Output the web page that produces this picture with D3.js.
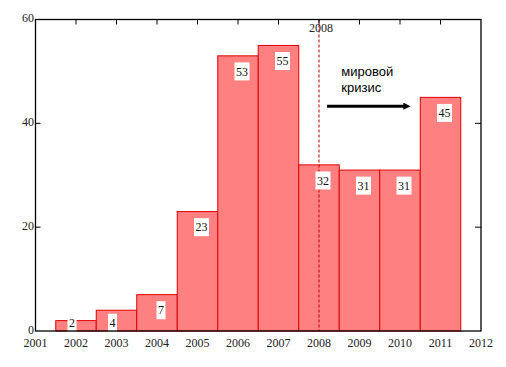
<!DOCTYPE html>
<html>
<head>
<meta charset="utf-8">
<script src="https://cdn.jsdelivr.net/npm/d3@7"></script>
<style>
  body { margin: 0; background: #fff; }
  svg text { font-family: "Liberation Serif", "Times New Roman", serif; }
</style>
</head>
<body>
<svg width="506" height="367"></svg>
<script>
// data
var years = [2002, 2003, 2004, 2005, 2006, 2007, 2008, 2009, 2010, 2011];
var counts = [2, 4, 7, 23, 53, 55, 32, 31, 31, 45];
var xTicks = [2001, 2002, 2003, 2004, 2005, 2006, 2007, 2008, 2009, 2010, 2011, 2012];
var yTicks = [0, 20, 40, 60];
var crisisYear = 2008;
var crisisText = ["мировой", "кризис"];

var svg = d3.select("svg");

var x = d3.scaleLinear().domain([2001, 2012]).range([35.5, 481]);
var y = d3.scaleLinear().domain([0, 60]).range([331, 19.5]);

var data = years.map((yr, i) => ({ year: yr, value: counts[i] }));

// bars, one year wide, centred on the year
svg.selectAll(".bar")
  .data(data)
  .enter().append("rect")
  .attr("class", "bar")
  .attr("x", d => x(d.year - 0.5))
  .attr("y", d => y(d.value))
  .attr("width", d => x(d.year + 0.5) - x(d.year - 0.5))
  .attr("height", d => y(0) - y(d.value))
  .style("fill", "#ff8080")
  .style("stroke", "#e00000")
  .style("stroke-width", 1);

// crisis line
svg.append("line")
  .attr("x1", x(crisisYear)).attr("x2", x(crisisYear))
  .attr("y1", y(60)).attr("y2", y(0))
  .style("stroke", "#c00000")
  .style("stroke-width", 1)
  .style("stroke-dasharray", "3,2");

// value labels in white boxes
var lab = svg.selectAll(".lab")
  .data(data)
  .enter().append("g")
  .attr("class", "lab")
  .attr("transform", d => `translate(${x(d.year) + (d.value < 5 ? -4 : 4)},${y(Math.max(d.value - 3, 1.6))})`);

lab.append("rect")
  .attr("x", d => d.value < 10 ? -4.5 : -7.5)
  .attr("y", -9)
  .attr("width", d => d.value < 10 ? 9 : 15)
  .attr("height", 18)
  .style("fill", "#fff");

lab.append("text")
  .attr("text-anchor", "middle")
  .attr("dy", "0.35em")
  .style("font-size", "12px")
  .style("fill", "#111")
  .text(d => d.value);

// frame
svg.append("rect")
  .attr("x", x(2001)).attr("y", y(60))
  .attr("width", x(2012) - x(2001))
  .attr("height", y(0) - y(60))
  .style("fill", "none")
  .style("stroke", "#000")
  .style("stroke-width", 1.3);

// top ticks
svg.selectAll(".ttick")
  .data(xTicks.slice(1, -1))
  .enter().append("line")
  .attr("x1", d => x(d)).attr("x2", d => x(d))
  .attr("y1", y(60)).attr("y2", y(60) + 5)
  .style("stroke", "#000");

// side ticks
svg.selectAll(".ltick")
  .data(yTicks.slice(1, -1))
  .enter().append("line")
  .attr("x1", x(2001)).attr("x2", x(2001) + 5)
  .attr("y1", d => y(d)).attr("y2", d => y(d))
  .style("stroke", "#000");

svg.selectAll(".rtick")
  .data(yTicks.slice(1, -1))
  .enter().append("line")
  .attr("x1", x(2012) - 6).attr("x2", x(2012))
  .attr("y1", d => y(d)).attr("y2", d => y(d))
  .style("stroke", "#000");

// tick labels
svg.selectAll(".xl")
  .data(xTicks)
  .enter().append("text")
  .attr("x", d => x(d))
  .attr("y", 346.5)
  .attr("text-anchor", "middle")
  .style("font-size", "12px")
  .style("fill", "#222")
  .text(d => d);

svg.selectAll(".yl")
  .data(yTicks)
  .enter().append("text")
  .attr("x", 34)
  .attr("y", d => y(d) - 1)
  .attr("dy", "0.33em")
  .attr("text-anchor", "end")
  .style("font-size", "12px")
  .style("fill", "#222")
  .text(d => d);

// 2008 label at the top
svg.append("text")
  .attr("x", x(crisisYear) + 2)
  .attr("y", y(60) + 12)
  .attr("text-anchor", "middle")
  .style("font-size", "12px")
  .style("fill", "#222")
  .text(crisisYear);

// annotation
svg.append("defs").append("marker")
  .attr("id", "head")
  .attr("viewBox", "0 0 10 10")
  .attr("refX", 1).attr("refY", 5)
  .attr("markerWidth", 3).attr("markerHeight", 2.4)
  .attr("orient", "auto")
  .append("path")
  .attr("d", "M0,0 L10,5 L0,10 Z")
  .style("fill", "#000");

svg.append("line")
  .attr("x1", x(2008.2)).attr("x2", x(2010.1))
  .attr("y1", y(43.3)).attr("y2", y(43.3))
  .style("stroke", "#000")
  .style("stroke-width", 3)
  .attr("marker-end", "url(#head)");

svg.selectAll(".note")
  .data(crisisText)
  .enter().append("text")
  .attr("x", x(2008.55))
  .attr("y", (d, i) => 76 + i * 16)
  .style("font-family", "'Liberation Sans', Arial, sans-serif")
  .style("font-size", "13px")
  .style("fill", "#000")
  .text(d => d);
</script>
</body>
</html>
